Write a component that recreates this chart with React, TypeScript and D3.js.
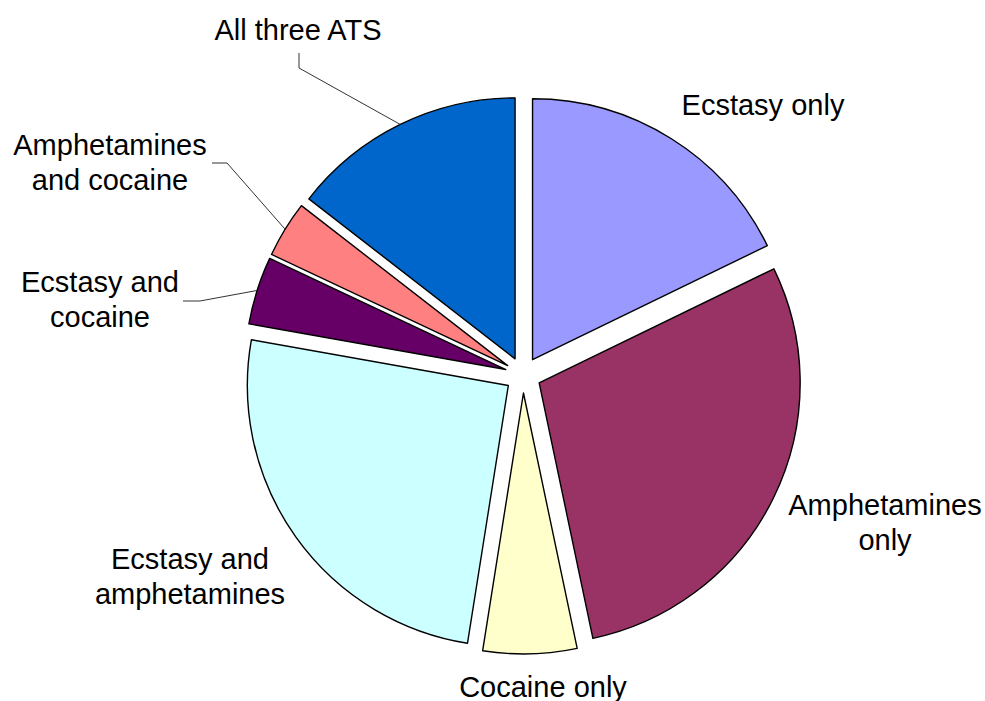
import React from "react";
import * as d3 from "d3";

// slice data, clockwise from 12 o'clock
const categories = [
  "Ecstasy only",
  "Amphetamines only",
  "Cocaine only",
  "Ecstasy and amphetamines",
  "Ecstasy and cocaine",
  "Amphetamines and cocaine",
  "All three ATS",
];
const shares = [17.8, 28.9, 5.8, 25.3, 4.2, 3.5, 14.5];
const labelLines = [
  ["Ecstasy only"],
  ["Amphetamines", "only"],
  ["Cocaine only"],
  ["Ecstasy and", "amphetamines"],
  ["Ecstasy and", "cocaine"],
  ["Amphetamines", "and cocaine"],
  ["All three ATS"],
];

// styling / layout
const colors = ["#9999FF", "#993366", "#FFFFCC", "#CCFFFF", "#660066", "#FF8080", "#0066CC"];
const labelPos = [
  { x: 763, y: 115 },
  { x: 885, y: 515 },
  { x: 543, y: 697 },
  { x: 190, y: 569 },
  { x: 100, y: 292 },
  { x: 110, y: 155 },
  { x: 298, y: 40 },
];
// leader line start + elbow, only some labels have one
const leaders: Record<number, [number, number][]> = {
  4: [[183, 301], [200, 301]],
  5: [[212, 163], [227, 163]],
  6: [[299, 53], [299, 68]],
};

const width = 985;
const height = 701;
const cx = 523;
const cy = 375;
const radius = 261;
const explode = 18;
const lineGap = 35;

const App = () => {
  const pie = d3.pie<number>().sort(null).startAngle(0).endAngle(2 * Math.PI).value((d) => d);
  const arcs = pie(shares);
  const arc = d3.arc<d3.PieArcDatum<number>>().innerRadius(0).outerRadius(radius);
  const edge = d3.arc<d3.PieArcDatum<number>>().innerRadius(radius).outerRadius(radius);

  const offset = (a: d3.PieArcDatum<number>) => {
    const mid = (a.startAngle + a.endAngle) / 2;
    return [explode * Math.sin(mid), -explode * Math.cos(mid)];
  };

  return (
    <svg
      width={width}
      height={height}
      style={{ position: "absolute", left: 0, top: 0, background: "#fff" }}
      fontFamily="'Liberation Sans', Arial, sans-serif"
    >
      <g transform={`translate(${cx},${cy})`}>
        {arcs.map((a, i) => {
          const [dx, dy] = offset(a);
          return (
            <path
              key={categories[i]}
              d={arc(a) || ""}
              transform={`translate(${dx},${dy})`}
              fill={colors[i]}
              stroke="#000"
              strokeWidth={1.4}
              strokeLinejoin="round"
            />
          );
        })}
      </g>
      {arcs.map((a, i) => {
        const pts = leaders[i];
        if (!pts) return null;
        const [dx, dy] = offset(a);
        const [ex, ey] = edge.centroid(a);
        const all = [...pts, [cx + dx + ex, cy + dy + ey] as [number, number]];
        return (
          <path
            key={"l" + i}
            d={d3.line()(all) || ""}
            fill="none"
            stroke="#333"
            strokeWidth={1}
          />
        );
      })}
      {labelLines.map((lines, i) => (
        <text
          key={"t" + i}
          x={labelPos[i].x}
          y={labelPos[i].y}
          textAnchor="middle"
          fontSize={29}
          fill="#000"
        >
          {lines.map((s, j) => (
            <tspan key={j} x={labelPos[i].x} y={labelPos[i].y + j * lineGap}>
              {s}
            </tspan>
          ))}
        </text>
      ))}
    </svg>
  );
};

export default App;
